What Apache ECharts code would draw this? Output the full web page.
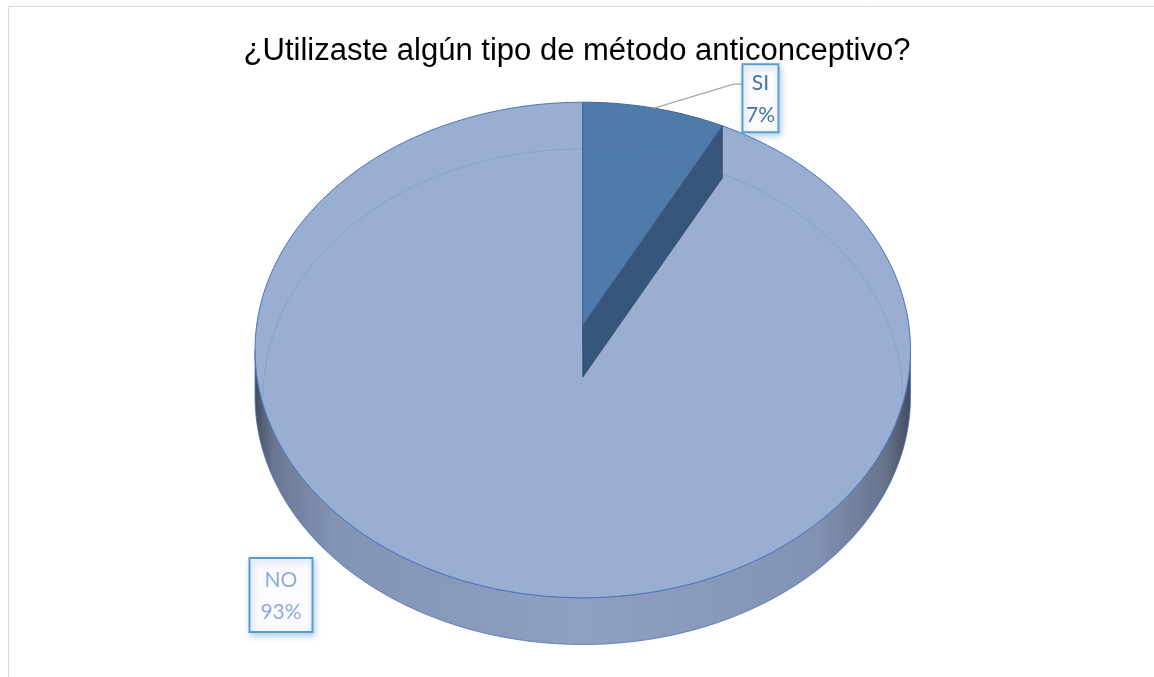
<!DOCTYPE html>
<html>
<head>
<meta charset="utf-8">
<title>¿Utilizaste algún tipo de método anticonceptivo?</title>
<script src="https://cdn.jsdelivr.net/npm/echarts@6/dist/echarts.min.js"></script>
<style>
body{margin:0;background:#fff;}
#chart{width:1154px;height:677px;}
</style>
</head>
<body>
<div id="chart"></div>
<script>
// datos de la encuesta
var categories = ['SI', 'NO'];
var values = [7, 93];

var total = values.reduce(function(a, b){ return a + b; }, 0);
// angulos acumulados (desde arriba, sentido horario)
var starts = [];
var acc = 0;
for(var k = 0; k < values.length; k++){
    starts.push(acc / total * Math.PI * 2);
    acc += values[k];
}

var topColors = ['#507aa9', '#99aed1'];
var labelColors = ['#4a6fa5', '#8faadc'];
// posicion de las etiquetas (fraccion del ancho/alto)
var labelPos = [[0.659, 0.145], [0.2435, 0.879]];
var labelSize = [[36, 68], [63, 74]];

function renderItem(params, api){
    var i = params.dataIndex;
    var W = api.getWidth(), H = api.getHeight();
    var cx = W * 0.505, cy = H * 0.517, rx = W * 0.284, ry = H * 0.366;
    var depth = H * 0.069;
    var t0 = starts[i];
    var t1 = t0 + api.value(1) / total * Math.PI * 2;

    function pt(t, dy, r){
        r = r || rx;
        return [cx + r * Math.sin(t), cy - ry * Math.cos(t) + (dy || 0)];
    }
    function arc(a, b, dy, r){
        var out = [];
        var n = Math.max(4, Math.ceil(Math.abs(b - a) / 0.02));
        for(var j = 0; j <= n; j++){
            out.push(pt(a + (b - a) * j / n, dy, r));
        }
        return out;
    }

    var children = [];
    if(i == 1){
        // pared frontal
        var a = Math.max(t0, Math.PI / 2), b = Math.min(t1, Math.PI * 1.5);
        if(a < b){
            var wall = arc(a, b, 0).concat(arc(a, b, depth).reverse());
            children.push({
                type: 'polygon', z2: 1,
                shape: {points: wall},
                style: {
                    fill: new echarts.graphic.LinearGradient(0, 0, 1, 0, [
                        {offset: 0, color: '#434c5f'},
                        {offset: 0.03, color: '#6b7894'},
                        {offset: 0.12, color: '#8393b4'},
                        {offset: 0.5, color: '#8fa0c2'},
                        {offset: 0.85, color: '#8393b4'},
                        {offset: 0.96, color: '#66748d'},
                        {offset: 1, color: '#434c5f'}
                    ]),
                    stroke: '#4a70b8', lineWidth: 0.8
                }
            });
        }
        children.push({
            type: 'polygon', z2: 2,
            shape: {points: [[cx, cy]].concat(arc(t0, t1, 0))},
            style: {fill: topColors[i], stroke: '#4a72c0', lineWidth: 1}
        });
        // borde trasero visto a traves
        children.push({
            type: 'polyline', z2: 6,
            shape: {points: arc(-Math.PI / 2, Math.PI / 2, depth, rx - 8)},
            style: {fill: null, stroke: 'rgba(80,110,170,0.22)', lineWidth: 1}
        });
    } else {
        var lift = H * 0.037, cut = H * 0.077;
        var apex = [cx, cy - lift];
        var pEnd = pt(t1, 0);
        children.push({
            type: 'polygon', z2: 4,
            shape: {points: [pEnd, [pEnd[0], pEnd[1] + cut], [apex[0], apex[1] + cut], apex]},
            style: {fill: '#35557b', stroke: '#2e4b6e', lineWidth: 0.8}
        });
        children.push({
            type: 'polygon', z2: 5,
            shape: {points: [apex].concat(arc(t0, t1, 0))},
            style: {fill: topColors[i], stroke: '#3e6594', lineWidth: 1}
        });
        // linea guia
        var mid = pt((t0 + t1) / 2, 0);
        var lx = W * labelPos[i][0] - labelSize[i][0] / 2;
        var ly = H * labelPos[i][1] - 14;
        children.push({
            type: 'polyline', z2: 7,
            shape: {points: [mid, [lx - 9, ly], [lx, ly]]},
            style: {fill: null, stroke: '#a6a6a6', lineWidth: 1.3}
        });
    }

    // etiqueta
    var bx = W * labelPos[i][0], by = H * labelPos[i][1];
    var bw = labelSize[i][0], bh = labelSize[i][1];
    children.push({
        type: 'rect', z2: 8,
        shape: {x: bx - bw / 2, y: by - bh / 2, width: bw, height: bh},
        style: {
            fill: '#fafbfd', stroke: '#5b9bd5', lineWidth: 2,
            shadowBlur: 6, shadowOffsetX: 2, shadowOffsetY: 3,
            shadowColor: 'rgba(91,155,213,0.45)'
        }
    });
    children.push({
        type: 'text', z2: 9,
        style: {
            x: bx, y: by + 1,
            text: categories[i] + '\n' + Math.round(api.value(1) / total * 100) + '%',
            fill: labelColors[i],
            font: '21px Lato',
            lineHeight: 32,
            align: 'center', verticalAlign: 'middle'
        }
    });

    return {type: 'group', children: children};
}

var chart = echarts.init(document.getElementById('chart'));
var option = {
    backgroundColor: '#fff',
    title: {
        text: '¿Utilizaste algún tipo de método anticonceptivo?',
        left: 'center',
        top: 31,
        textStyle: {
            fontFamily: 'Liberation Sans',
            fontSize: 31,
            fontWeight: 'normal',
            color: '#000'
        }
    },
    graphic: [{
        type: 'rect',
        shape: {x: 8.5, y: 6.5, width: 1160, height: 700},
        style: {fill: null, stroke: '#d9d9d9', lineWidth: 1},
        silent: true
    }],
    series: [{
        type: 'custom',
        coordinateSystem: 'none',
        renderItem: renderItem,
        data: categories.map(function(c, i){ return {name: c, value: [i, values[i]]}; })
    }]
};
chart.setOption(option);
</script>
</body>
</html>
